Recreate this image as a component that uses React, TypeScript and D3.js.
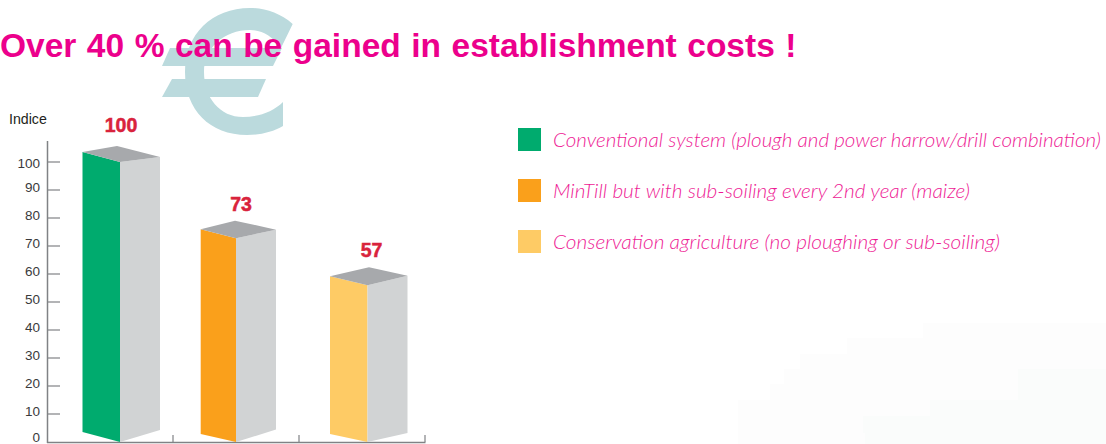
import React from "react";
import * as d3 from "d3";

const categories = ["Conventional system", "MinTill", "Conservation agriculture"];
const valueLabels = ["100", "73", "57"];
const barValues = [100, 72.8, 56];
const barColors = ["#00ab6e", "#faa01b", "#fecb65"];
const legendLabels = [
  "Conventional system (plough and power harrow/drill combination)",
  "MinTill but with sub-soiling every 2nd year (maize)",
  "Conservation agriculture (no ploughing or sub-soiling)",
];
const legendWidths = [548, 417, 447];
const yTicks = [100, 90, 80, 70, 60, 50, 40, 30, 20, 10, 0];
const xTicks = [173, 299, 425];
const frontX = [120, 236, 367.5];
const leftW = [37.5, 35.3, 37.5];
const rightW = [40, 40, 40];
const topLeftDy = [-10, -9, -9];
const topRightDy = [-5, -8.5, -9.5];
const backDx = [-3, -1, 1.5];
const backDy = [-16, -17.5, -18];
const botLeftDy = [-10, -8, -8];
const botRightDy = [-12, -12.5, -9];
const labelCx = [121, 241, 371.5];
const labelDy = [-30, -27, -28];

const y = d3.scaleLinear().domain([0, 100]).range([442, 162]);
const pts = (p: number[][]) => d3.line()(p as [number, number][]) + "Z";

const euroRing =
  "M292.7,24C280,13 265,8 250,8C212,8 185,34 185,72C185,110 210,135 247,135C260,135 273,132 283,126L283,102C273,112 258,117 243,117C220,117 204,98 204,72C204,48 224,30 250,30C262,30 272,36 281,48Z";
const euroBars = ["M170,48L282,48L273,66L162,66Z", "M172,79L266,79L258,97L162,97Z"];

const bgOuter = "M1106,323H923V338H847V354H800V369H784V384H770V400H738V444H1106Z";
const bgInner = "M1106,369H1018V400H930V416H863V433H865V444H1106Z";

export default function App() {
  const sans = "'Liberation Sans', Arial, sans-serif";
  return (
    <svg width={1106} height={444} style={{ position: "absolute", left: 0, top: 0, display: "block", background: "#fff" }}>
      <path d={bgOuter} fill="#fdfdfd" />
      <path d={bgInner} fill="#fafcfb" />
      <path d={euroRing} fill="#bbdadd" />
      {euroBars.map((d) => (
        <path key={d} d={d} fill="#bbdadd" />
      ))}
      <text x={0} y={57} fontFamily={sans} fontWeight={700} fontSize={33.5} wordSpacing={1.2} fill="#ec008c">
        Over 40 % can be gained in establishment costs !
      </text>
      <text x={9} y={124} fontFamily={sans} fontSize={14.2} fill="#231f20">Indice</text>

      <line x1={47.5} x2={47.5} y1={141} y2={443} stroke="#808285" strokeWidth={1.5} />
      <line x1={47} x2={425.5} y1={442.5} y2={442.5} stroke="#808285" strokeWidth={1.5} />
      {xTicks.map((x) => (
        <line key={x} x1={x} x2={x} y1={435} y2={442} stroke="#808285" strokeWidth={1.2} />
      ))}
      {yTicks.filter((t) => t > 0).map((t) => (
        <line key={t} x1={47.5} x2={60} y1={y(t)} y2={y(t)} stroke="#808285" strokeWidth={1.2} />
      ))}
      {yTicks.map((t) => (
        <text key={t} x={40} y={y(t) + (t === 100 ? 6 : t === 0 ? 0 : 2)} textAnchor="end" fontFamily={sans} fontSize={13.5} fill="#3a3a3c">
          {t}
        </text>
      ))}

      {categories.map((c, i) => {
        const fx = frontX[i];
        const top = y(barValues[i]);
        const base = y(0);
        const lx = fx - leftW[i];
        const rx = fx + rightW[i];
        return (
          <g key={c}>
            <path d={pts([[lx, top + topLeftDy[i]], [fx, top], [fx, base], [lx, base + botLeftDy[i]]])} fill={barColors[i]} />
            <path d={pts([[fx, top], [rx, top + topRightDy[i]], [rx, base + botRightDy[i]], [fx, base]])} fill="#d1d3d4" />
            <path d={pts([[lx, top + topLeftDy[i]], [fx + backDx[i], top + backDy[i]], [rx, top + topRightDy[i]], [fx, top]])} fill="#a7a9ac" />
            <text x={labelCx[i]} y={top + labelDy[i]} textAnchor="middle" fontFamily={sans} fontWeight={700} fontSize={19.5} fill="#d9233c" stroke="#d9233c" strokeWidth={0.5}>
              {valueLabels[i]}
            </text>
          </g>
        );
      })}

      {legendLabels.map((l, i) => {
        const ly = 128 + i * 51;
        return (
          <g key={l}>
            <rect x={518} y={ly} width={23} height={23} fill={barColors[i]} />
            <text x={553} y={ly + 19} fontFamily="Lato, sans-serif" fontStyle="italic" fontWeight={300} fontSize={20.4} fill="#ee1a94" textLength={legendWidths[i]} lengthAdjust="spacingAndGlyphs">
              {l}
            </text>
          </g>
        );
      })}
    </svg>
  );
}
